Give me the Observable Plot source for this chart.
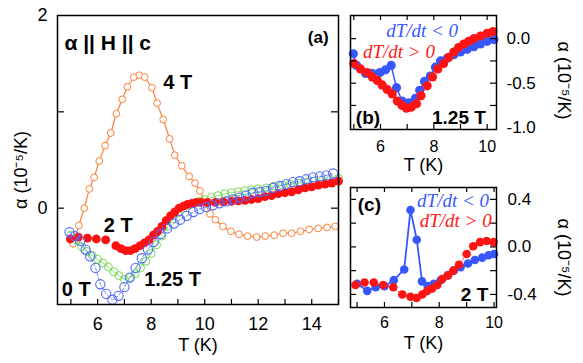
<!DOCTYPE html>
<html><head><meta charset="utf-8">
<script src="https://cdn.jsdelivr.net/npm/d3@7"></script>
<script src="https://cdn.jsdelivr.net/npm/@observablehq/plot@0.6"></script>
<style>
body{margin:0;background:#fff;}
#wrap{position:relative;width:583px;height:363px;overflow:hidden;background:#fff;}
.panel{position:absolute;}
.panel svg{overflow:visible;}
</style></head><body><div id="wrap"></div>
<script>
// ---------- Panel (a): alpha || H || c ----------
const T_4T = [5.08,5.30,5.50,5.69,5.87,6.06,6.28,6.49,6.70,6.92,7.11,7.35,7.56,7.76,8.03,8.22,8.45,8.69,8.88,9.14,9.42,9.64,9.82,10.03,10.20,10.40,10.68,10.98,11.28,11.60,11.94,12.26,12.60,12.93,13.25,13.58,13.90,14.24,14.57,14.88];
const A_4T = [-0.37,-0.18,0.00,0.20,0.32,0.49,0.65,0.78,0.98,1.13,1.26,1.36,1.38,1.36,1.25,1.09,0.92,0.72,0.55,0.44,0.33,0.26,0.18,0.05,-0.06,-0.12,-0.19,-0.24,-0.27,-0.29,-0.30,-0.29,-0.28,-0.26,-0.26,-0.24,-0.22,-0.21,-0.20,-0.19];

const T_2T = [4.98,5.28,5.62,5.95,6.30,6.68,6.87,7.05,7.22,7.40,7.58,7.75,7.92,8.08,8.24,8.40,8.56,8.72,8.88,9.04,9.20,9.36,9.52,9.68,9.84,10.1,10.4,10.7,11.0,11.25,11.5,11.75,12.0,12.25,12.5,12.75,13.0,13.25,13.5,13.75,14.0,14.25,14.5,14.75,15.0];
const A_2T = [-0.32,-0.30,-0.31,-0.32,-0.33,-0.39,-0.42,-0.44,-0.44,-0.42,-0.39,-0.36,-0.33,-0.28,-0.24,-0.19,-0.13,-0.08,-0.04,0.00,0.02,0.04,0.05,0.06,0.06,0.06,0.06,0.065,0.07,0.075,0.08,0.09,0.10,0.12,0.13,0.15,0.16,0.17,0.19,0.21,0.22,0.24,0.25,0.26,0.28];

const T_125T = [5.0,5.2,5.4,5.6,5.8,6.0,6.2,6.4,6.6,6.8,7.0,7.2,7.4,7.6,7.8,8.0,8.2,8.4,8.6,8.8,9.0,9.2,9.4,9.6,9.8,10.0,10.25,10.5,10.75,11.0,11.25,11.5,11.75,12.0,12.3,12.6,12.9,13.2,13.5,13.8,14.1,14.4,14.7,15.0];
const A_125T = [-0.28,-0.33,-0.40,-0.45,-0.49,-0.53,-0.57,-0.61,-0.66,-0.70,-0.74,-0.72,-0.68,-0.62,-0.55,-0.47,-0.38,-0.29,-0.19,-0.11,-0.05,0.00,0.03,0.05,0.07,0.09,0.11,0.13,0.15,0.16,0.17,0.18,0.19,0.20,0.21,0.23,0.24,0.25,0.26,0.27,0.28,0.29,0.30,0.31];

const T_0T = [4.95,5.15,5.35,5.55,5.72,5.92,6.10,6.32,6.55,6.78,7.00,7.20,7.42,7.65,7.88,8.10,8.35,8.60,8.85,9.08,9.33,9.57,9.80,10.05,10.30,10.55,10.80,11.05,11.30,11.55,11.80,12.05,12.30,12.55,12.80,13.05,13.30,13.55,13.80,14.05,14.30,14.55,14.80];
const A_0T = [-0.25,-0.29,-0.34,-0.43,-0.50,-0.62,-0.79,-0.89,-0.95,-0.91,-0.82,-0.72,-0.62,-0.52,-0.43,-0.35,-0.27,-0.21,-0.16,-0.12,-0.08,-0.04,-0.01,0.01,0.03,0.05,0.07,0.09,0.11,0.13,0.16,0.17,0.18,0.21,0.23,0.25,0.27,0.28,0.30,0.32,0.33,0.34,0.36];

const xTickMarksA = [5,6,7,8,9,10,11,12,13,14,15];
const xTickLabelsA = [6,8,10,12,14];
const yTickMarksA = [0,1];
const yTickLabelsA = [0,2];
const titleA = "α || H || c";
const labelsA = ["(a)", "4 T", "2 T", "1.25 T", "0 T"];
const labelTA = [14.24, 8.99, 6.77, 8.80, 5.20];
const labelAA = [1.767, 1.30, -0.18, -0.74, -0.845];
const labelSizeA = [17, 20, 20, 20, 20];

// ---------- Panel (b): 1.25 T ----------
const Tb_down = [4.98,5.10,5.44,5.69,5.98,6.19,6.40,6.60,6.81,7.06,7.31,7.47,7.65,7.87,8.06,8.25,8.50,8.75,9.00,9.25,9.50,9.75,10.00,10.25];
const Ab_down = [-0.17,-0.30,-0.39,-0.39,-0.38,-0.35,-0.30,-0.55,-0.70,-0.72,-0.67,-0.58,-0.48,-0.42,-0.32,-0.25,-0.22,-0.18,-0.15,-0.12,-0.09,-0.06,-0.03,-0.01];
const Tb_up = [5.00,5.25,5.50,5.69,5.88,6.06,6.25,6.44,6.63,6.81,6.97,7.15,7.35,7.52,7.75,7.95,8.15,8.37,8.56,8.75,8.93,9.12,9.31,9.50,9.75,10.00,10.22];
const Ab_up = [-0.28,-0.34,-0.38,-0.43,-0.47,-0.52,-0.57,-0.62,-0.70,-0.75,-0.78,-0.77,-0.73,-0.64,-0.53,-0.43,-0.34,-0.28,-0.21,-0.15,-0.10,-0.06,-0.03,0.00,0.03,0.06,0.08];
const yTickMarksB = [0,-0.25,-0.5,-0.75];
const yTickLabelsB = [0,-0.5,-1];

// ---------- Panel (c): 2 T ----------
const Tc_down = [5.00,5.37,5.68,6.00,6.34,6.72,6.95,7.18,7.37,7.58,7.80,8.05,8.30,8.53,8.78,9.05,9.30,9.57,9.80,10.00];
const Ac_down = [-0.31,-0.37,-0.34,-0.33,-0.28,-0.19,0.31,0.06,-0.29,-0.33,-0.31,-0.28,-0.24,-0.20,-0.17,-0.14,-0.11,-0.09,-0.07,-0.06];
const Tc_up = [4.94,5.27,5.61,5.95,6.32,6.65,6.95,7.17,7.38,7.56,7.74,7.93,8.11,8.32,8.51,8.72,9.00,9.24,9.49,9.73,9.98];
const Ac_up = [-0.32,-0.30,-0.30,-0.32,-0.34,-0.40,-0.42,-0.43,-0.40,-0.37,-0.35,-0.32,-0.27,-0.24,-0.20,-0.15,-0.06,0.005,0.04,0.05,0.04];
const yTickMarksC = [0.4,0.2,0,-0.2,-0.4];
const yTickLabelsC = [0.4,0,-0.4];

const xTickMarksBC = [5,6,7,8,9,10];
const xTickLabelsBC = [6,8,10];

const sans = '"Liberation Sans", Arial, Helvetica, sans-serif';
const serif = '"Liberation Serif", "Times New Roman", serif';
const cOrange = "#ff7f3a", cGreen = "#74dc52", cRed = "#ff1010", cBlue = "#4f68ff";
const cBlueB = "#3758ff", cRedB = "#ff1414";
const yTitle = "α (10⁻⁵/K)";

const pts = (T, A) => T.map((t, i) => ({T: t, a: A[i]}));
const wrap = document.getElementById("wrap");
function place(node, left, top) {
  const d = document.createElement("div");
  d.className = "panel"; d.style.left = left + "px"; d.style.top = top + "px";
  d.appendChild(node); wrap.appendChild(d);
}
const mid = {textAnchor: "middle", lineAnchor: "middle"};

// ---- Panel (a)
{
  const W = 345, H = 363, mL = 57, mR = 7, mT = 15, mB = 59;
  const fw = W - mL - mR, fh = H - mT - mB;
  const ann = labelsA.map((s, i) => ({s, T: labelTA[i], a: labelAA[i], size: labelSizeA[i]}));
  const p = Plot.plot({
    width: W, height: H, marginLeft: mL, marginRight: mR, marginTop: mT, marginBottom: mB,
    style: {fontFamily: sans, color: "black", background: "transparent", overflow: "visible"},
    x: {domain: [4.5, 15]},
    y: {domain: [-1, 2]},
    marks: [
      Plot.line(pts(T_4T, A_4T), {x: "T", y: "a", stroke: cOrange, strokeWidth: 1.2}),
      Plot.dot(pts(T_4T, A_4T), {x: "T", y: "a", r: 3.4, stroke: cOrange, fill: "white", strokeWidth: 1}),
      Plot.line(pts(T_125T, A_125T), {x: "T", y: "a", stroke: cGreen, strokeWidth: 0.8}),
      Plot.dot(pts(T_125T, A_125T), {x: "T", y: "a", r: 4, stroke: cGreen, fill: "none", strokeWidth: 1}),
      Plot.dot(pts(T_2T, A_2T), {x: "T", y: "a", r: 4.4, fill: cRed, stroke: "none"}),
      Plot.line(pts(T_0T, A_0T), {x: "T", y: "a", stroke: cBlue, strokeWidth: 0.8, strokeDasharray: "3,2"}),
      Plot.dot(pts(T_0T, A_0T), {x: "T", y: "a", r: 4.6, stroke: cBlue, fill: "none", strokeWidth: 1.1}),
      Plot.tickX(xTickMarksA, {x: d => d, insetTop: fh - 5, stroke: "black", strokeWidth: 1.2}),
      Plot.tickY(yTickMarksA, {y: d => d, insetRight: fw - 7, stroke: "black", strokeWidth: 1.2}),
      Plot.tickY(yTickMarksA, {y: d => d, insetLeft: fw - 7, stroke: "black", strokeWidth: 1.2}),
      Plot.axisX({ticks: xTickLabelsA, tickSize: 0, tickPadding: 13, tickFormat: d => String(d), label: null, fontSize: 18}),
      Plot.axisY({ticks: yTickLabelsA, tickSize: 0, tickPadding: 10, tickFormat: d => String(d), label: null, fontSize: 18}),
      Plot.frame({stroke: "black", strokeWidth: 1.5}),
      Plot.text([{s: titleA, T: 4.76, a: 1.715}], {x: "T", y: "a", text: "s", textAnchor: "start", fontSize: 21, fontWeight: "bold", fill: "black"}),
      Plot.text(ann, {x: "T", y: "a", text: "s", ...mid, fontSize: d => d.size, fontWeight: "bold", fill: "black"}),
      Plot.text(["T (K)"], {frameAnchor: "bottom", ...mid, dy: 41, fontSize: 18, fill: "black"}),
      Plot.text([yTitle], {frameAnchor: "left", ...mid, dx: -36, dy: 10, rotate: -90, fontSize: 18, fill: "black"})
    ]
  });
  place(p, 0, 0);
}

// ---- Panel (b)
{
  const W = 238, H = 170, mL = 5, mR = 87, mT = 15, mB = 41;
  const fw = W - mL - mR, fh = H - mT - mB;
  const p = Plot.plot({
    width: W, height: H, marginLeft: mL, marginRight: mR, marginTop: mT, marginBottom: mB,
    style: {fontFamily: sans, color: "black", background: "transparent", overflow: "visible"},
    x: {domain: [4.875, 10.35]},
    y: {domain: [-1.02, 0.26]},
    marks: [
      Plot.line(pts(Tb_down, Ab_down), {x: "T", y: "a", stroke: cBlueB, strokeWidth: 1.5}),
      Plot.dot(pts(Tb_down, Ab_down), {x: "T", y: "a", r: 4.6, fill: cBlueB, stroke: "none"}),
      Plot.line(pts(Tb_up, Ab_up), {x: "T", y: "a", stroke: cRedB, strokeWidth: 1, strokeDasharray: "1,2"}),
      Plot.dot(pts(Tb_up, Ab_up), {x: "T", y: "a", r: 4.6, fill: cRedB, stroke: "none"}),
      Plot.tickX(xTickMarksBC, {x: d => d, insetTop: fh - 5, stroke: "black", strokeWidth: 1.2}),
      Plot.tickX(xTickMarksBC, {x: d => d, insetBottom: fh - 5, stroke: "black", strokeWidth: 1.2}),
      Plot.tickY(yTickMarksB, {y: d => d, insetRight: fw - 6, stroke: "black", strokeWidth: 1.2}),
      Plot.tickY(yTickMarksB, {y: d => d, insetLeft: fw - 6, stroke: "black", strokeWidth: 1.2}),
      Plot.axisX({ticks: xTickLabelsBC, tickSize: 0, tickPadding: 11, tickFormat: d => String(d), label: null, fontSize: 16}),
      Plot.axisY({anchor: "right", ticks: yTickLabelsB, tickSize: 0, tickPadding: 10, tickFormat: d => d.toFixed(1), label: null, fontSize: 17}),
      Plot.frame({stroke: "black", strokeWidth: 1.5}),
      Plot.text([{s: "dT/dt < 0", T: 7.56, a: 0.09}], {x: "T", y: "a", text: "s", ...mid, fontFamily: serif, fontStyle: "italic", fontSize: 19, fill: cBlueB}),
      Plot.text([{s: "dT/dt > 0", T: 6.69, a: -0.152}], {x: "T", y: "a", text: "s", ...mid, fontFamily: serif, fontStyle: "italic", fontSize: 19, fill: cRedB}),
      Plot.text([{s: "(b)", T: 5.53, a: -0.893}, {s: "1.25 T", T: 8.94, a: -0.893}], {x: "T", y: "a", text: "s", ...mid, fontWeight: "bold", fontSize: 19, fill: "black"}),
      Plot.text(["T (K)"], {frameAnchor: "bottom", ...mid, dy: 36, fontSize: 18, fill: "black"}),
      Plot.text([yTitle], {frameAnchor: "right", ...mid, dx: 67, dy: 8, rotate: 90, fontSize: 18, fill: "black"})
    ]
  });
  place(p, 345, 0);
}

// ---- Panel (c)
{
  const W = 238, H = 193, mL = 5, mR = 87, mT = 17, mB = 56;
  const fw = W - mL - mR, fh = H - mT - mB;
  const p = Plot.plot({
    width: W, height: H, marginLeft: mL, marginRight: mR, marginTop: mT, marginBottom: mB,
    style: {fontFamily: sans, color: "black", background: "transparent", overflow: "visible"},
    x: {domain: [4.76, 10.09]},
    y: {domain: [-0.51, 0.5]},
    marks: [
      Plot.line(pts(Tc_down, Ac_down), {x: "T", y: "a", stroke: cBlueB, strokeWidth: 1.8}),
      Plot.dot(pts(Tc_down, Ac_down), {x: "T", y: "a", r: 4.3, fill: cBlueB, stroke: "none"}),
      Plot.line(pts(Tc_up, Ac_up), {x: "T", y: "a", stroke: cRedB, strokeWidth: 1, strokeDasharray: "1,2"}),
      Plot.dot(pts(Tc_up, Ac_up), {x: "T", y: "a", r: 4.3, fill: cRedB, stroke: "none"}),
      Plot.tickX(xTickMarksBC, {x: d => d, insetTop: fh - 5, stroke: "black", strokeWidth: 1.2}),
      Plot.tickX(xTickMarksBC, {x: d => d, insetBottom: fh - 5, stroke: "black", strokeWidth: 1.2}),
      Plot.tickY(yTickMarksC, {y: d => d, insetRight: fw - 6, stroke: "black", strokeWidth: 1.2}),
      Plot.tickY(yTickMarksC, {y: d => d, insetLeft: fw - 6, stroke: "black", strokeWidth: 1.2}),
      Plot.axisX({ticks: xTickLabelsBC, tickSize: 0, tickPadding: 9, tickFormat: d => String(d), label: null, fontSize: 16}),
      Plot.axisY({anchor: "right", ticks: yTickLabelsC, tickSize: 0, tickPadding: 11, tickFormat: d => d.toFixed(1), label: null, fontSize: 17}),
      Plot.frame({stroke: "black", strokeWidth: 1.5}),
      Plot.text([{s: "dT/dt < 0", T: 8.505, a: 0.385}], {x: "T", y: "a", text: "s", ...mid, fontFamily: serif, fontStyle: "italic", fontSize: 19, fill: cBlueB}),
      Plot.text([{s: "dT/dt > 0", T: 8.6, a: 0.216}], {x: "T", y: "a", text: "s", ...mid, fontFamily: serif, fontStyle: "italic", fontSize: 19, fill: cRedB}),
      Plot.text([{s: "(c)", T: 5.45, a: 0.35}, {s: "2 T", T: 9.29, a: -0.40}], {x: "T", y: "a", text: "s", ...mid, fontWeight: "bold", fontSize: 19, fill: "black"}),
      Plot.text(["T (K)"], {frameAnchor: "bottom", ...mid, dy: 36, fontSize: 18, fill: "black"}),
      Plot.text([yTitle], {frameAnchor: "right", ...mid, dx: 67, dy: 10, rotate: 90, fontSize: 18, fill: "black"})
    ]
  });
  place(p, 345, 170);
}
</script></body></html>
